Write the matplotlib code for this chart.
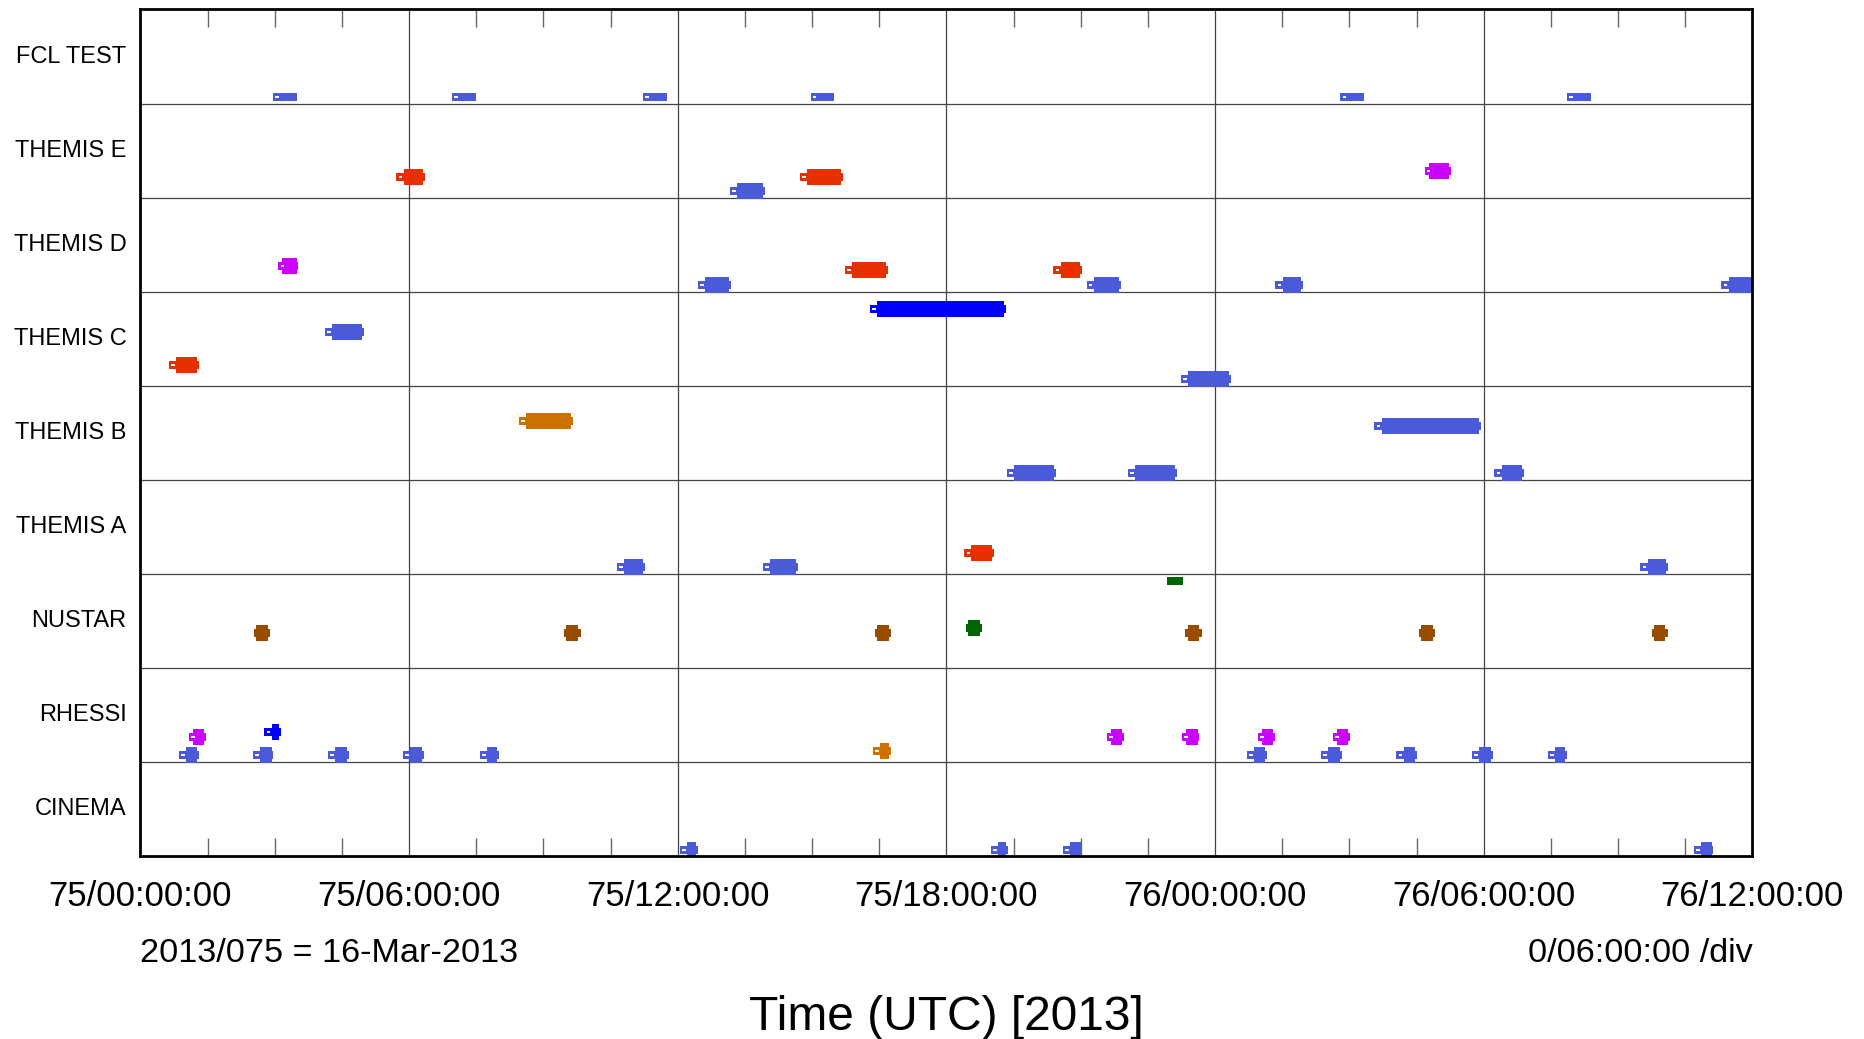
import numpy as np
import matplotlib.pyplot as plt
from matplotlib.ticker import MultipleLocator
from matplotlib.transforms import ScaledTranslation

plt.rcParams['font.family'] = ['Liberation Sans', 'DejaVu Sans']

# rows, top to bottom
rows = ['FCL TEST', 'THEMIS E', 'THEMIS D', 'THEMIS C', 'THEMIS B',
        'THEMIS A', 'NUSTAR', 'RHESSI', 'CINEMA']

# station colours
colors = {
    'blue': '#4a5ad8',
    'pure': '#0000ff',
    'red': '#e63000',
    'magenta': '#cc00ff',
    'orange': '#cc7000',
    'brown': '#994c00',
    'green': '#006400',
}

# passes: (station, start hour, end hour, track within row 0..1); hours from 2013/075 00:00
fcl_test = [('blue', 2.96, 3.49, 0.93), ('blue', 6.96, 7.50, 0.93), ('blue', 11.23, 11.76, 0.93),
            ('blue', 14.97, 15.50, 0.93), ('blue', 26.80, 27.33, 0.93), ('blue', 31.86, 32.39, 0.93)]
themis_e = [('red', 5.72, 6.36, 0.78), ('blue', 13.17, 13.94, 0.93), ('red', 14.73, 15.69, 0.78),
            ('magenta', 28.68, 29.26, 0.72)]
themis_d = [('magenta', 3.08, 3.53, 0.73), ('blue', 12.45, 13.19, 0.93), ('red', 15.74, 16.70, 0.77),
            ('red', 20.39, 21.03, 0.77), ('blue', 21.13, 21.90, 0.93), ('blue', 25.35, 25.96, 0.93),
            ('blue', 35.31, 36.06, 0.93)]
themis_c = [('red', 0.64, 1.30, 0.78), ('blue', 4.12, 5.00, 0.43), ('pure', 16.29, 19.33, 0.18),
            ('blue', 23.24, 24.35, 0.93)]
themis_b = [('orange', 8.46, 9.66, 0.38), ('blue', 19.35, 20.44, 0.93), ('blue', 22.06, 23.15, 0.93),
            ('blue', 27.56, 29.93, 0.43), ('blue', 30.24, 30.90, 0.93)]
themis_a = [('blue', 10.65, 11.26, 0.93), ('blue', 13.91, 14.68, 0.93), ('red', 18.40, 19.06, 0.78),
            ('blue', 33.50, 34.11, 0.93)]
nustar = [('brown', 2.53, 2.90, 0.63), ('brown', 9.46, 9.83, 0.63), ('brown', 16.40, 16.76, 0.63),
          ('green', 18.44, 18.80, 0.58), ('brown', 23.34, 23.70, 0.63), ('brown', 28.55, 28.91, 0.63),
          ('brown', 33.75, 34.11, 0.63)]
rhessi = [('blue', 0.86, 1.30, 0.93), ('blue', 2.52, 2.97, 0.93), ('blue', 4.19, 4.65, 0.93),
          ('blue', 5.87, 6.34, 0.93), ('blue', 7.58, 8.00, 0.93), ('blue', 24.72, 25.15, 0.93),
          ('blue', 26.37, 26.84, 0.93), ('blue', 28.05, 28.51, 0.93), ('blue', 29.74, 30.20, 0.93),
          ('blue', 31.44, 31.86, 0.93),
          ('magenta', 1.09, 1.47, 0.73), ('magenta', 21.59, 21.97, 0.73), ('magenta', 23.26, 23.65, 0.73),
          ('magenta', 24.96, 25.33, 0.73), ('magenta', 26.64, 27.01, 0.73),
          ('pure', 2.77, 3.14, 0.68), ('orange', 16.36, 16.76, 0.88)]
cinema = [('blue', 12.05, 12.45, 0.94), ('blue', 19.00, 19.37, 0.94), ('blue', 20.60, 21.04, 0.94),
          ('blue', 34.70, 35.13, 0.94)]

# thin-only passes (no thick bar)
fcl_flags = [('green', 22.92, 23.28, 0.08, 6)]  # (station, start, end, track, row)

passes = [fcl_test, themis_e, themis_d, themis_c, themis_b, themis_a, nustar, rhessi, cinema]
thin_only_rows = {0}

major_hours = np.arange(0, 37, 6)


def hour_label(h):
    day = 75 + int(h) // 24
    return f"{day}/{int(h) % 24:02d}:00:00"


fig = plt.figure(figsize=(18.64, 10.39), dpi=100)
ax = fig.add_axes([0.0753, 0.1761, 0.8648, 0.8148])

thin_h = 0.085
thick_h = 0.17

for r, plist in enumerate(passes):
    for st, t0, t1, tr in plist:
        y = r + tr
        c = colors[st]
        ax.barh(y, t1 - t0, left=t0, height=thin_h, color=c, linewidth=0)
        if r not in thin_only_rows:
            lead = 0.05 if st in ('brown', 'green') else (0.09 if st == 'magenta' else 0.16)
            trail = 0.04 if st not in ('brown', 'green') else 0.05
            ax.barh(y, (t1 - trail) - (t0 + lead), left=t0 + lead, height=thick_h,
                    color=c, linewidth=0)
        if st not in ('brown', 'green'):
            ax.plot([t0 + 0.05, t0 + 0.13], [y, y], color='white', lw=1.4,
                    solid_capstyle='butt')

for st, t0, t1, tr, r in fcl_flags:
    ax.barh(r + tr, t1 - t0, left=t0, height=thin_h, color=colors[st], linewidth=0)

for i in range(1, len(rows)):
    ax.axhline(i, color='#444444', lw=0.9, zorder=0)
for h in major_hours[1:-1]:
    ax.axvline(h, color='#444444', lw=0.9, zorder=0)

ax.set_xlim(0, 36)
ax.set_ylim(len(rows), 0)

ax.set_xticks(major_hours)
ax.set_xticklabels([hour_label(h) for h in major_hours], fontsize=25)
ax.xaxis.set_minor_locator(MultipleLocator(1.5))
ax.tick_params(axis='x', which='major', length=0, pad=17)
ax.tick_params(axis='x', which='minor', direction='in', length=13, width=1,
               color='#666666', top=True, bottom=True)

ax.set_yticks(np.arange(len(rows)) + 0.5)
ax.set_yticklabels(rows, fontsize=17)
ax.tick_params(axis='y', length=0, pad=10)
shift = ScaledTranslation(0, 1.7 / 72, fig.dpi_scale_trans)
for lab in ax.get_yticklabels():
    lab.set_transform(lab.get_transform() + shift)

for s in ax.spines.values():
    s.set_linewidth(2)

fig.text(0.0753, 1 - 953.5 / 1039, '2013/075 = 16-Mar-2013', fontsize=24.7, ha='left', va='center')
fig.text(0.9401, 1 - 953.5 / 1039, '0/06:00:00 /div', fontsize=24.7, ha='right', va='center')
fig.text(0.5077, 1 - 1017 / 1039, 'Time (UTC) [2013]', fontsize=34.5, ha='center', va='center')

fig.savefig('out.png', dpi=100)
